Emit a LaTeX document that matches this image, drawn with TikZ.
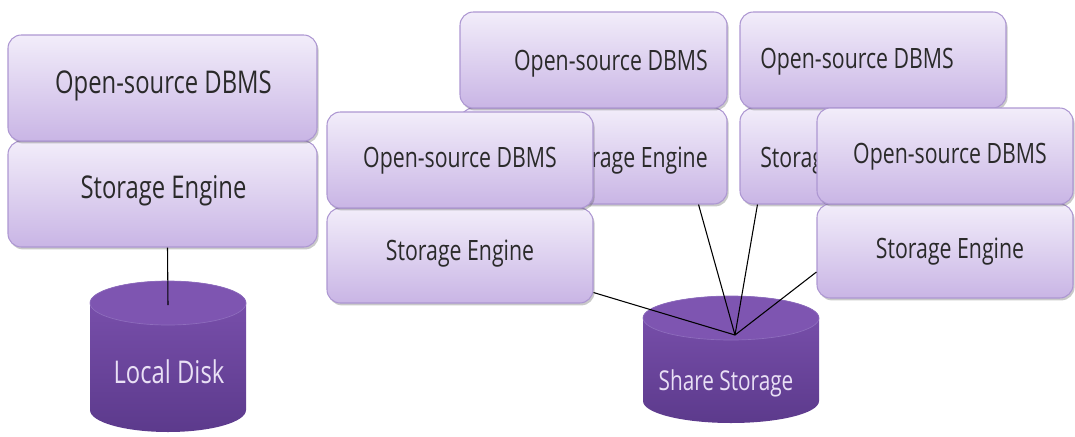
\documentclass[tikz,border=0pt]{standalone}
\usepackage{fontspec}
\newfontfamily\lblfont[FakeStretch=0.76]{Open Sans}
\usetikzlibrary{shadows,calc}

\definecolor{boxtop}{HTML}{F2EDFA}
\definecolor{boxbot}{HTML}{C9B5E5}
\definecolor{boxedge}{HTML}{AD97D2}
\definecolor{disktop}{HTML}{7C52AF}
\definecolor{diskbot}{HTML}{5C3A8C}
\definecolor{diskface}{HTML}{7E55B1}
\definecolor{diskrim}{HTML}{8E6DBD}
\definecolor{disktext}{HTML}{E9E0F5}
\definecolor{labeltext}{HTML}{2A2A2A}

\begin{document}
\begin{tikzpicture}[x=0.75pt,y=-0.75pt,
  tier/.style 2 args={draw=boxedge, line width=0.8pt, rounded corners=10pt,
    top color=boxtop, bottom color=boxbot, inner sep=0pt,
    minimum width=#1*0.75pt, minimum height=#2*0.75pt,
    drop shadow={shadow xshift=1.2pt, shadow yshift=-1.8pt, opacity=0.3, fill=black!70}},
  bigtxt/.style={font=\lblfont\fontsize{23.5}{28}\selectfont, text=labeltext, inner sep=0pt},
  smalltxt/.style={font=\lblfont\fontsize{21}{25}\selectfont, text=labeltext, inner sep=0pt},
  disktxt/.style={font=\lblfont\fontsize{#1}{25}\selectfont, text=disktext, inner sep=0pt},
  link/.style={draw=black, line width=0.8pt},
  disk/.style={top color=disktop, bottom color=diskbot},
  face/.style={fill=diskface, draw=diskrim, line width=0.5pt}
]
\useasboundingbox (0,0) rectangle (1075,436);

% stand-alone server with its own disk
\node[tier={309}{106}] (ase) at (162.5,194) {};
\node[tier={309}{106}] (adb) at (162.5,88) {};
\node[bigtxt, anchor=base] (adbt) at (163.5,93) {Open-source DBMS};
\node[bigtxt, anchor=base] (aset) at (163.5,198) {Storage Engine};

% back row of shared-storage servers
\node[tier={267}{96}] (bse) at (593.5,156) {};
\node[tier={267}{96}] (bdb) at (593.5,60) {};
\node[smalltxt, anchor=base east] (bdbt) at (708,70) {Open-source DBMS};
\node[smalltxt, anchor=base east] (bset) at (708,167) {Storage Engine};

\node[tier={266}{96}] (dse) at (873,156) {};
\node[tier={266}{96}] (ddb) at (873,60) {};
\node[smalltxt, anchor=base west] (ddbt) at (760,68) {Open-source DBMS};
\node[smalltxt, anchor=base west] (dset) at (760,167) {Storage Engine};

% front row of shared-storage servers
\node[tier={266}{95}] (cse) at (460,255.5) {};
\node[tier={266}{96}] (cdb) at (460,160) {};
\node[smalltxt, anchor=base] (cdbt) at (460,167) {Open-source DBMS};
\node[smalltxt, anchor=base] (cset) at (460,260) {Storage Engine};

\node[tier={256}{94}] (ese) at (945,251) {};
\node[tier={256}{96}] (edb) at (945,156) {};
\node[smalltxt, anchor=base] (edbt) at (950,163) {Open-source DBMS};
\node[smalltxt, anchor=base] (eset) at (950,258) {Storage Engine};

% local disk cylinder
\shade[disk] (90,303) -- (90,410) arc[start angle=180, end angle=0, x radius=78, y radius=22]
  -- (246,303) arc[start angle=0, end angle=-180, x radius=78, y radius=22] -- cycle;
\path[face] (168,303) ellipse [x radius=78, y radius=22];
\coordinate (ltop) at (168,305);
\node[disktxt=23.5, anchor=base] (ldt) at (169,383) {Local Disk};

% shared storage cylinder
\shade[disk] (643,318) -- (643,401) arc[start angle=180, end angle=0, x radius=88, y radius=22]
  -- (819,318) arc[start angle=0, end angle=-180, x radius=88, y radius=22] -- cycle;
\path[face] (731,318) ellipse [x radius=88, y radius=22];
\coordinate (hub) at (735,335);
\node[disktxt=20.5, anchor=base] (sst) at (726,390) {Share Storage};

% connections
\draw[link] ($(ase.south)+(5,0)$) -- (ltop);
\draw[link] ($(cse.south east)+(0,-11)$) -- (hub);
\draw[link] ($(bse.south east)+(-29,0)$) -- (hub);
\draw[link] ($(dse.south west)+(18,0)$) -- (hub);
\draw[link] ($(ese.west)+(0,21)$) -- (hub);
\end{tikzpicture}
\end{document}
